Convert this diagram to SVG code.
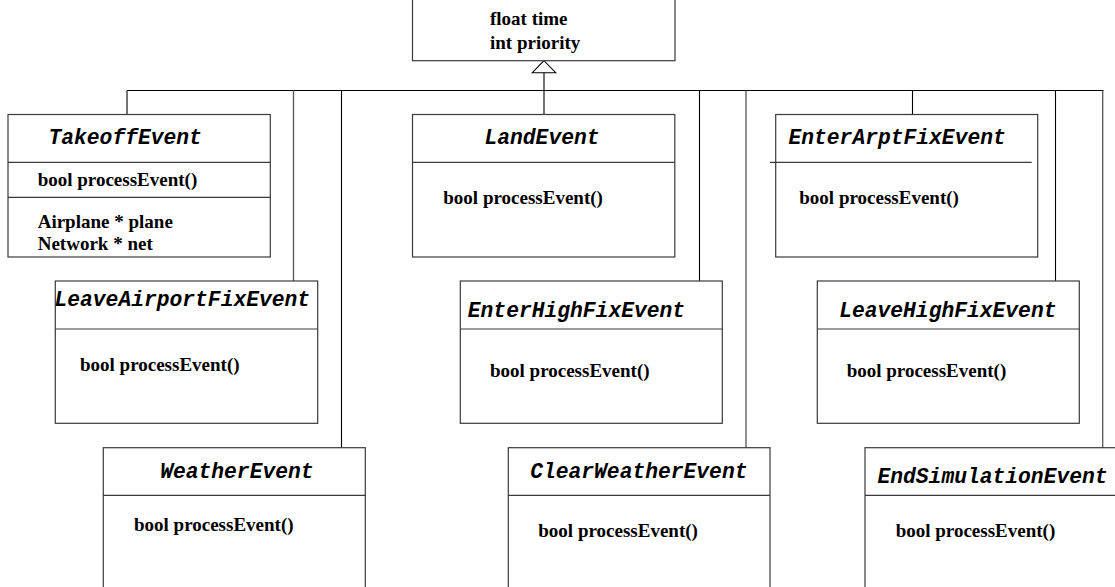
<svg xmlns="http://www.w3.org/2000/svg" width="1115" height="587" viewBox="0 0 1115 587">
<style>
.box{fill:#fff;stroke:#3a3a3a;stroke-width:1.2}
.div{stroke:#3a3a3a;stroke-width:1.2;fill:none}
.con{stroke:#000;stroke-width:1.1;fill:none}
.con2{stroke:#555;stroke-width:1.3;fill:none}
.title{font-family:"Liberation Mono","Courier New",monospace;font-weight:bold;font-style:italic;font-size:21.3px;fill:#000}
.attr{font-family:"Liberation Serif","Times New Roman",serif;font-weight:bold;font-size:19px;fill:#000}
</style>
<rect width="1115" height="587" fill="#fff"/>
<g id="connectors">
<path class="con" d="M127 90.5H1103.5"/>
<path class="con" d="M127 90.5V114.5"/>
<path class="con2" d="M293.5 90.5V281"/>
<path class="con" d="M341.5 90.5V448"/>
<path class="con" d="M544 72.7V114.5"/>
<path class="con" d="M699.5 90.5V281"/>
<path class="con2" d="M746 90.5V448"/>
<path class="con" d="M912.5 90.5V114.5"/>
<path class="con" d="M1055.5 90.5V281"/>
<path class="con2" d="M1102.7 90.5V448"/>
<polygon class="con" points="544,60.7 532.3,72.7 555.7,72.7" fill="#fff"/>
</g>
<g id="Event">
<rect class="box" x="412.5" y="-2" width="262.5" height="62.7"/>
<text class="attr" x="490" y="25">float time</text>
<text class="attr" x="490" y="49.3">int priority</text>
</g>
<g id="TakeoffEvent">
<rect class="box" x="8" y="114.5" width="262.3" height="142.5"/>
<path class="div" d="M8 162.3H270.3M8 197.3H270.3"/>
<text class="title" x="48.5" y="144">TakeoffEvent</text>
<text class="attr" x="37.7" y="185.5">bool processEvent()</text>
<text class="attr" x="37.7" y="227.7">Airplane * plane</text>
<text class="attr" x="37.7" y="250">Network * net</text>
</g>
<g id="LandEvent">
<rect class="box" x="412.5" y="114.5" width="262.3" height="142.5"/>
<path class="div" d="M412.5 162.3H674.8"/>
<text class="title" x="484.5" y="144">LandEvent</text>
<text class="attr" x="443.3" y="204.3">bool processEvent()</text>
</g>
<g id="EnterArptFixEvent">
<rect class="box" x="775.7" y="114.5" width="262" height="142.5"/>
<path class="div" d="M770 162.3H1031.7"/>
<text class="title" x="788.5" y="144">EnterArptFixEvent</text>
<text class="attr" x="799.3" y="204.3">bool processEvent()</text>
</g>
<g id="LeaveAirportFixEvent">
<rect class="box" x="55.3" y="281" width="262.4" height="142.3"/>
<path class="div" d="M55.3 329H317.7"/>
<text class="title" x="54.5" y="305.5">LeaveAirportFixEvent</text>
<text class="attr" x="80" y="370.7">bool processEvent()</text>
</g>
<g id="EnterHighFixEvent">
<rect class="box" x="460.3" y="281" width="262" height="142.3"/>
<path class="div" d="M460.3 329H722.3"/>
<text class="title" x="467.8" y="317">EnterHighFixEvent</text>
<text class="attr" x="490" y="376.7">bool processEvent()</text>
</g>
<g id="LeaveHighFixEvent">
<rect class="box" x="817.3" y="281" width="262" height="142.3"/>
<path class="div" d="M817.3 329H1079.3"/>
<text class="title" x="839.2" y="317">LeaveHighFixEvent</text>
<text class="attr" x="846.7" y="376.7">bool processEvent()</text>
</g>
<g id="WeatherEvent">
<rect class="box" x="103.3" y="447.7" width="262" height="150"/>
<path class="div" d="M103.3 495.3H365.3"/>
<text class="title" x="160.2" y="478.3">WeatherEvent</text>
<text class="attr" x="134" y="530.7">bool processEvent()</text>
</g>
<g id="ClearWeatherEvent">
<rect class="box" x="508.3" y="447.7" width="261.7" height="150"/>
<path class="div" d="M508.3 495.3H770"/>
<text class="title" x="530.2" y="478.3">ClearWeatherEvent</text>
<text class="attr" x="538.3" y="536.7">bool processEvent()</text>
</g>
<g id="EndSimulationEvent">
<rect class="box" x="865" y="447.7" width="262" height="150"/>
<path class="div" d="M865 495.3H1127"/>
<text class="title" x="877.5" y="483.3">EndSimulationEvent</text>
<text class="attr" x="895.7" y="536.7">bool processEvent()</text>
</g>
</svg>
